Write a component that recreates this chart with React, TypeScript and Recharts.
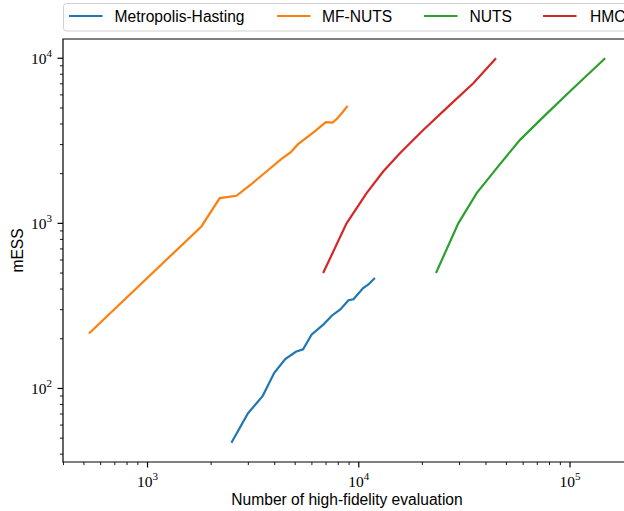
import React from 'react';
import { LineChart, Line, XAxis, YAxis, ReferenceArea } from 'recharts';

// Metropolis-Hasting
const mhEvals = [2495, 2991, 3512, 3981, 4488, 5034, 5451, 5975, 6833, 7472, 8178, 8938, 9438, 10490, 11080, 11920];
const mhESS = [46.9, 70.8, 90.2, 124.3, 150.6, 166.7, 172.6, 211.8, 245.3, 276.8, 301.3, 342.6, 346.9, 406.1, 425.2, 466.7];

// MF-NUTS
const mfEvals = [528, 1799, 2197, 2636, 3047, 3656, 4307, 4752, 5162, 6080, 6986, 7512, 7850, 8381, 8850];
const mfESS = [215, 958, 1422, 1469, 1696, 2061, 2460, 2686, 3018, 3548, 4101, 4078, 4276, 4710, 5144];

// NUTS
const nutsEvals = [23200, 29590, 36160, 46300, 58000, 76500, 101500, 146700];
const nutsESS = [500, 1000, 1525, 2262, 3205, 4540, 6427, 10000];

// HMC
const hmcEvals = [6781, 8754, 10890, 13050, 15660, 20200, 27030, 34850, 44640];
const hmcESS = [500, 1000, 1525, 2061, 2660, 3680, 5218, 7063, 10000];

const xTicks = [400, 500, 600, 700, 800, 900, 1000, 2000, 3000, 4000, 5000, 6000, 7000, 8000, 9000, 10000, 20000, 30000, 40000, 50000, 60000, 70000, 80000, 90000, 100000];
const yTicks = [40, 50, 60, 70, 80, 90, 100, 200, 300, 400, 500, 600, 700, 800, 900, 1000, 2000, 3000, 4000, 5000, 6000, 7000, 8000, 9000, 10000];

const xDomain = [398, 194400];
const yDomain = [35.86, 13080];

const series = [
  { name: 'Metropolis-Hasting', color: '#1f77b4', xs: mhEvals, ys: mhESS },
  { name: 'MF-NUTS', color: '#ff7f0e', xs: mfEvals, ys: mfESS },
  { name: 'NUTS', color: '#2ca02c', xs: nutsEvals, ys: nutsESS },
  { name: 'HMC', color: '#d62728', xs: hmcEvals, ys: hmcESS },
];

const SERIF = '"Liberation Serif", "DejaVu Serif", serif';
const SANS = '"Liberation Sans", Arial, sans-serif';

const isMajor = (v: number) => {
  const lg = Math.log10(v);
  return Math.abs(lg - Math.round(lg)) < 1e-9;
};

const XTick = (props: any) => {
  const { x, y, payload } = props;
  const v = payload.value;
  const major = isMajor(v);
  const exp = Math.round(Math.log10(v));
  return (
    <g>
      <line x1={x} y1={y} x2={x} y2={y + (major ? 5.5 : 3.1)} stroke="#000" strokeWidth={major ? 1.2 : 0.9} />
      {major && (
        <text x={x} y={y + 25} textAnchor="middle" fontFamily={SERIF} fontSize={15.5} fill="#000">
          10<tspan dy={-7} fontSize={11}>{exp}</tspan>
        </text>
      )}
    </g>
  );
};

const YTick = (props: any) => {
  const { x, y, payload } = props;
  const v = payload.value;
  const major = isMajor(v);
  const exp = Math.round(Math.log10(v));
  return (
    <g>
      <line x1={x} y1={y} x2={x - (major ? 5.5 : 3.1)} y2={y} stroke="#000" strokeWidth={major ? 1.2 : 0.9} />
      {major && (
        <text x={x - 11} y={y + 5.5} textAnchor="end" fontFamily={SERIF} fontSize={15.5} fill="#000">
          10<tspan dy={-7} fontSize={11}>{exp}</tspan>
        </text>
      )}
    </g>
  );
};

const legendItems = [
  { name: 'Metropolis-Hasting', color: '#1f77b4', x0: 69, tx: 114.5 },
  { name: 'MF-NUTS', color: '#ff7f0e', x0: 277, tx: 322 },
  { name: 'NUTS', color: '#2ca02c', x0: 424, tx: 469.5 },
  { name: 'HMC', color: '#d62728', x0: 543, tx: 590 },
];

export default function App() {
  const lineData = series.map((s) => ({
    ...s,
    data: s.xs.map((x, i) => ({ x, y: s.ys[i] })),
  }));
  return (
    <div style={{ position: 'fixed', left: 0, top: 0, width: 624, height: 511, overflow: 'hidden', background: '#fff' }}>
      <LineChart width={640} height={511} margin={{ top: 39, right: 9, bottom: 0, left: 0 }}>
        <XAxis
          dataKey="x"
          type="number"
          scale="log"
          domain={xDomain}
          allowDataOverflow
          ticks={xTicks}
          interval={0}
          tickSize={0}
          tickMargin={0}
          tickLine={false}
          axisLine={false}
          tick={<XTick />}
          height={49}
          label={(p: any) => {
            const vb = p.viewBox || {};
            return (
              <text x={vb.x + vb.width / 2} y={vb.y + 43} textAnchor="middle" fontFamily={SANS} fontSize={15.6} fill="#000">
                Number of high-fidelity evaluation
              </text>
            );
          }}
        />
        <YAxis
          dataKey="y"
          type="number"
          scale="log"
          domain={yDomain}
          allowDataOverflow
          ticks={yTicks}
          interval={0}
          tickSize={0}
          tickMargin={0}
          tickLine={false}
          axisLine={false}
          tick={<YTick />}
          width={63}
          label={(p: any) => {
            const vb = p.viewBox || {};
            const cx = 17;
            const cy = vb.y + vb.height / 2;
            return (
              <text x={cx} y={cy} transform={`rotate(-90 ${cx} ${cy})`} textAnchor="middle" dominantBaseline="central" fontFamily={SANS} fontSize={15.6} fill="#000">
                mESS
              </text>
            );
          }}
        />
        <ReferenceArea x1={xDomain[0]} x2={xDomain[1]} y1={yDomain[0]} y2={yDomain[1]} fill="none" fillOpacity={0} stroke="#000" strokeWidth={1.2} ifOverflow="visible" />
        {lineData.map((s) => (
          <Line
            key={s.name}
            data={s.data}
            dataKey="y"
            name={s.name}
            stroke={s.color}
            strokeWidth={2.2}
            dot={false}
            activeDot={false}
            type="linear"
            isAnimationActive={false}
          />
        ))}
      </LineChart>
      <svg width={624} height={40} style={{ position: 'absolute', left: 0, top: 0 }}>
        <rect x={63.5} y={3.5} width={570} height={27.5} rx={3} ry={3} fill="#fff" fillOpacity={0.8} stroke="#d0d0d0" strokeWidth={1} />
        {legendItems.map((it) => (
          <g key={it.name}>
            <line x1={it.x0} y1={16} x2={it.x0 + 33.5} y2={16} stroke={it.color} strokeWidth={2.2} />
            <text x={it.tx} y={21.5} fontFamily={SANS} fontSize={15.6} fill="#000">
              {it.name}
            </text>
          </g>
        ))}
      </svg>
    </div>
  );
}
